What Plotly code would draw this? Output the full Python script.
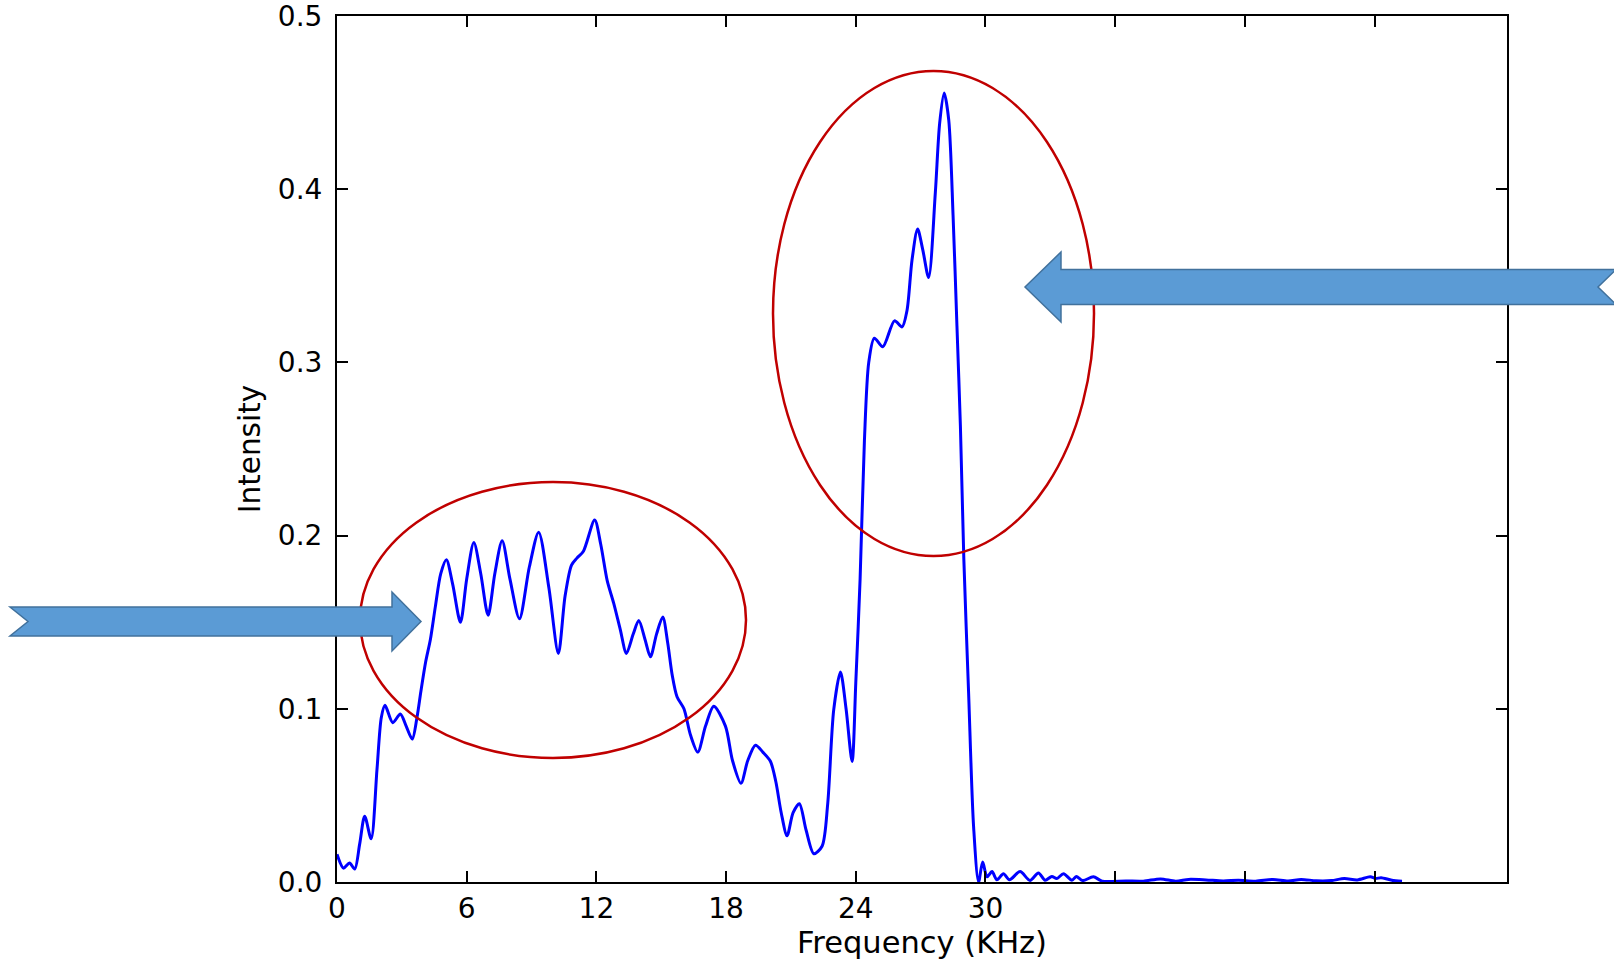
import plotly.graph_objects as go

# ---- data ----
freq_khz = [
    0.0, 0.3, 0.58, 0.82, 1.05, 1.28, 1.58, 1.85, 2.05, 2.22, 2.58, 2.93, 3.2, 3.48,
    3.7, 3.88, 4.1, 4.32, 4.55, 4.8, 5.06, 5.35, 5.71, 6.0, 6.33, 6.65, 6.99, 7.3,
    7.64, 8.0, 8.44, 8.9, 9.33, 9.8, 10.24, 10.55, 10.85, 11.1, 11.4, 11.92, 12.2,
    12.5, 12.8, 13.1, 13.39, 13.7, 13.96, 14.25, 14.5, 14.78, 15.07, 15.3, 15.5,
    15.73, 16.05, 16.35, 16.69, 17.05, 17.43, 17.97, 18.3, 18.69, 19.0, 19.36, 19.7,
    20.05, 20.3, 20.55, 20.82, 21.1, 21.39, 21.7, 22.06, 22.44, 22.7, 22.98, 23.29,
    23.55, 23.83, 24.0, 24.2, 24.4, 24.6, 24.86, 25.25, 25.79, 26.14, 26.37, 26.6,
    26.86, 27.1, 27.37, 27.68, 27.88, 28.09, 28.3, 28.5, 28.68, 28.84, 29.0, 29.22,
    29.45, 29.68, 29.87, 30.07, 30.3, 30.53, 30.83, 31.11, 31.6, 32.06, 32.45, 32.76,
    33.07, 33.3, 33.61, 34.0, 34.2, 34.5, 34.99, 35.4, 36.5, 37.3, 38.1, 38.8, 39.4,
    40.2, 41.0, 41.7, 42.5, 43.3, 44.0, 44.6, 45.3, 46.0, 46.6, 47.2, 47.8, 48.05,
    48.3, 48.8, 49.27,
]
intensity = [
    0.016, 0.008, 0.011, 0.0075, 0.022, 0.038, 0.025, 0.065, 0.095, 0.102, 0.092,
    0.097, 0.090, 0.0825, 0.095, 0.110, 0.127, 0.140, 0.159, 0.178, 0.186, 0.172,
    0.150, 0.175, 0.196, 0.178, 0.154, 0.178, 0.197, 0.175, 0.152, 0.182, 0.202,
    0.170, 0.132, 0.165, 0.183, 0.187, 0.191, 0.209, 0.195, 0.174, 0.161, 0.146,
    0.132, 0.143, 0.151, 0.140, 0.130, 0.143, 0.153, 0.138, 0.120, 0.107, 0.100,
    0.085, 0.075, 0.090, 0.1015, 0.090, 0.070, 0.057, 0.070, 0.079, 0.075, 0.0697,
    0.058, 0.040, 0.0267, 0.040, 0.0452, 0.030, 0.0163, 0.0206, 0.045, 0.0995,
    0.1212, 0.100, 0.0696, 0.115, 0.175, 0.255, 0.300, 0.314, 0.309, 0.324, 0.3205,
    0.330, 0.359, 0.377, 0.365, 0.349, 0.398, 0.438, 0.4555, 0.440, 0.385, 0.321,
    0.263, 0.186, 0.109, 0.032, 0.0, 0.0115, 0.003, 0.006, 0.0013, 0.0048, 0.0013,
    0.006, 0.0009, 0.0052, 0.001, 0.0032, 0.002, 0.0048, 0.001, 0.0032, 0.0008,
    0.003, 0.0005, 0.0006, 0.0005, 0.0018, 0.0005, 0.0015, 0.0012, 0.0006, 0.001,
    0.0005, 0.0015, 0.0006, 0.0015, 0.0007, 0.0008, 0.002, 0.0012, 0.003, 0.002,
    0.0025, 0.001, 0.0005,
]
x_tick_vals = [0, 6, 12, 18, 24, 30, 36, 42, 48]
x_tick_text = ["0", "6", "12", "18", "24", "30", "", "", ""]
y_tick_vals = [0.0, 0.1, 0.2, 0.3, 0.4, 0.5]
x_label = "Frequency (KHz)"
y_label = "Intensity"

# ---- layout geometry (pixels) ----
W, H = 1614, 965
ML, MR, MT, MB = 337, 107, 16, 83
PW, PH = W - ML - MR, H - MT - MB
FONT = "DejaVu Sans"


def px(x, y):
    """pixel position -> paper coords"""
    return (x - ML) / PW, (H - MB - y) / PH


def poly_path(pts):
    parts = []
    for i, (x, y) in enumerate(pts):
        xp, yp = px(x, y)
        parts.append(("M" if i == 0 else "L") + f"{xp:.5f},{yp:.5f}")
    return " ".join(parts) + " Z"


fig = go.Figure()
fig.add_trace(go.Scatter(
    x=freq_khz, y=intensity, mode="lines",
    line=dict(color="#0000ff", width=3, shape="spline", smoothing=0.8),
    hoverinfo="skip", showlegend=False, cliponaxis=True,
))

shapes = []
# red ellipses
for (x0, y0, x1, y1) in [(360, 482, 746, 758), (773, 71, 1094, 556)]:
    a0, b1 = px(x0, y0)
    a1, b0 = px(x1, y1)
    shapes.append(dict(type="circle", xref="paper", yref="paper",
                       x0=a0, x1=a1, y0=b0, y1=b1,
                       line=dict(color="#c00000", width=2.5), layer="above"))
# blue block arrows
arrow_right = [(10, 607), (392, 607), (392, 592), (421, 621.5), (392, 651),
               (392, 636), (10, 636), (28, 621.5)]
arrow_left = [(1025, 287), (1061, 252), (1061, 269.5), (1616, 269.5),
              (1598, 287), (1616, 304.5), (1061, 304.5), (1061, 322)]
for pts in (arrow_right, arrow_left):
    shapes.append(dict(type="path", xref="paper", yref="paper",
                       path=poly_path(pts), fillcolor="#5b9bd5",
                       line=dict(color="#41719c", width=1.5), layer="above"))

axis_common = dict(
    showline=True, linecolor="black", linewidth=2, mirror="ticks",
    ticks="inside", ticklen=11, tickwidth=1.5, tickcolor="black",
    showgrid=False, zeroline=False, ticklabeloverflow="allow", automargin=False,
    tickfont=dict(family=FONT, size=28, color="black"),
)

fig.update_layout(
    width=W, height=H, autosize=False,
    margin=dict(l=ML, r=MR, t=MT, b=MB, pad=0),
    paper_bgcolor="white", plot_bgcolor="white",
    font=dict(family=FONT, color="black"),
    shapes=shapes,
    xaxis=dict(range=[0, PW / 21.616], tickvals=x_tick_vals, ticktext=x_tick_text,
               title=dict(text=x_label, font=dict(family=FONT, size=30.5), standoff=2),
               ticklabelstandoff=0, **axis_common),
    yaxis=dict(range=[0, 0.50001], tickvals=y_tick_vals, tickformat=".1f",
               title=dict(text=y_label, font=dict(family=FONT, size=29.5), standoff=9),
               ticklabelstandoff=7, **axis_common),
)

fig.write_html("out.html")
